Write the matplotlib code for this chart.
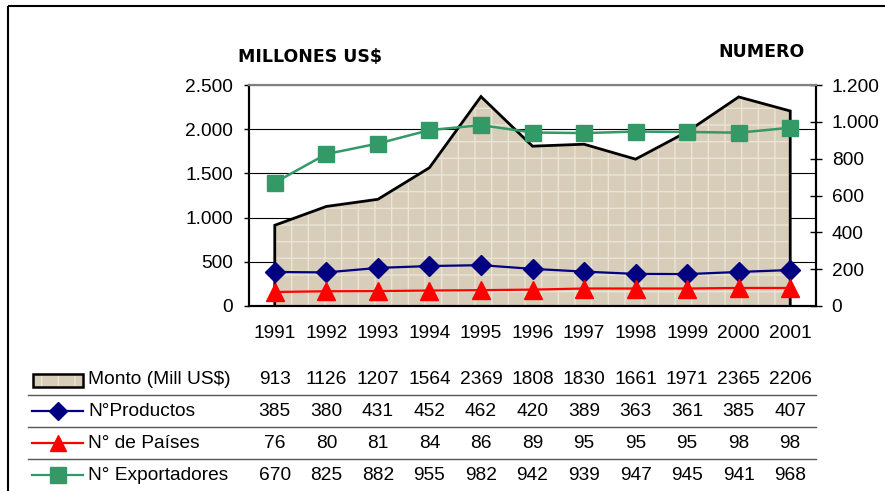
import matplotlib
matplotlib.use("Agg")
import matplotlib.pyplot as plt
from matplotlib.ticker import FuncFormatter, MultipleLocator
from matplotlib.transforms import blended_transform_factory
from matplotlib.patches import Rectangle
from matplotlib.lines import Line2D

plt.rcParams['font.family'] = ['Liberation Sans', 'DejaVu Sans']
plt.rcParams['hatch.linewidth'] = 1.0

years = ['1991', '1992', '1993', '1994', '1995', '1996', '1997', '1998', '1999', '2000', '2001']
monto = [913, 1126, 1207, 1564, 2369, 1808, 1830, 1661, 1971, 2365, 2206]
productos = [385, 380, 431, 452, 462, 420, 389, 363, 361, 385, 407]
paises = [76, 80, 81, 84, 86, 89, 95, 95, 95, 98, 98]
exportadores = [670, 825, 882, 955, 982, 942, 939, 947, 945, 941, 968]
row_labels = ['Monto (Mill US$)', 'N°Productos', 'N° de Países', 'N° Exportadores']

W, H = 885, 491
FS = 13.8
fig = plt.figure(figsize=(W / 100, H / 100), dpi=100)

# overlay in pixel coordinates
ov = fig.add_axes([0, 0, 1, 1], zorder=-5)
ov.set_xlim(0, W)
ov.set_ylim(H, 0)
ov.axis('off')

# outer frame
ov.add_patch(Rectangle((8, 6), W, H, fill=False, edgecolor='black', linewidth=1.5))

L, R, T, B = 249, 816, 85, 306
ax = fig.add_axes([L / W, 1 - B / H, (R - L) / W, (B - T) / H])
ax2 = ax.twinx()

x = list(range(len(years)))
fill_col = '#d8cdb8'
hatch_col = '#ebe4d6'

ax.set_axisbelow(True)
ax.yaxis.grid(True, color='black', linewidth=0.8, zorder=0)
ax.fill_between(x, 0, monto, facecolor=fill_col, edgecolor=hatch_col, hatch='+',
                linewidth=0, zorder=2)
ax.plot([x[0]] + x + [x[-1]], [0] + monto + [0], color='black', linewidth=2,
        zorder=3, solid_joinstyle='miter')
ax.plot(x, productos, color='#000080', linewidth=1.6, marker='D', markersize=10,
        markerfacecolor='#000080', markeredgecolor='#000080', zorder=4)

ax2.plot(x, paises, color='#ff0000', linewidth=1.6, marker='^', markersize=13,
         markerfacecolor='#ff0000', markeredgecolor='#ff0000', zorder=4)
ax2.plot(x, exportadores, color='#339966', linewidth=1.8, marker='s', markersize=12,
         markerfacecolor='#339966', markeredgecolor='#339966', zorder=5)

ax.set_xlim(-0.5, len(years) - 0.5)
ax.set_ylim(0, 2500)
ax2.set_ylim(0, 1200)
ax.yaxis.set_major_locator(MultipleLocator(500))
ax2.yaxis.set_major_locator(MultipleLocator(200))
fmt = FuncFormatter(lambda v, p: f"{int(v):,}".replace(',', '.'))
ax.yaxis.set_major_formatter(fmt)
ax2.yaxis.set_major_formatter(fmt)

ax.set_xticks(x)
ax.set_xticklabels(years)
ax.tick_params(axis='x', length=0, pad=14, labelsize=FS)
ax.tick_params(axis='y', direction='out', length=3.6, width=1, pad=8, labelsize=FS)
ax2.tick_params(axis='y', direction='inout', length=8.6, width=1, pad=7, labelsize=FS)

for a in (ax, ax2):
    a.spines['top'].set_color('#808080')
    a.spines['top'].set_linewidth(1.5)
    for s in ('left', 'right', 'bottom'):
        a.spines[s].set_color('black')
        a.spines[s].set_linewidth(1.5)
ax.patch.set_visible(False)

# axis titles
ov.text(310, 57, 'MILLONES US$', ha='center', va='center', fontsize=12.5,
        fontweight='bold', family='DejaVu Sans')
ov.text(761, 52, 'NUMERO', ha='center', va='center', fontsize=12.5,
        fontweight='bold', family='DejaVu Sans')

# data table below chart
tr = blended_transform_factory(ax.transData, ov.transData)
row_y = [380, 411, 443, 475]
series = [monto, productos, paises, exportadores]
for ry, vals, lab in zip(row_y, series, row_labels):
    ov.text(88, ry, lab, ha='left', va='center', fontsize=FS)
    for xi, v in zip(x, vals):
        ov.text(xi, ry, str(v), ha='center', va='center', fontsize=FS, transform=tr)

for ly in [395, 427, 459]:
    ov.plot([28, R], [ly, ly], color='#555555', linewidth=1)

# legend keys
ov.add_patch(Rectangle((33, 374), 50, 13, facecolor=fill_col, edgecolor=hatch_col,
                       linewidth=0, hatch='+'))
ov.add_patch(Rectangle((33, 374), 50, 13, fill=False, edgecolor='black', linewidth=1.8))
key_specs = [('#000080', 'D', 9), ('#ff0000', '^', 12), ('#339966', 's', 11)]
for ry, (c, m, ms) in zip(row_y[1:], key_specs):
    ov.add_line(Line2D([32, 83], [ry, ry], color=c, linewidth=1.6))
    ov.add_line(Line2D([57.5], [ry], color=c, marker=m, markersize=ms,
                       markerfacecolor=c, markeredgecolor=c, linestyle='none'))

fig.savefig('out.png', dpi=100)
